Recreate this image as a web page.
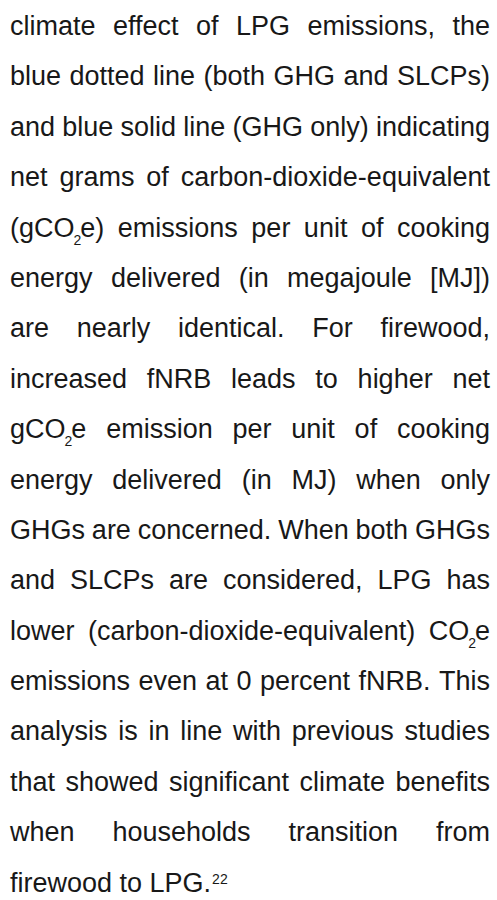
<!DOCTYPE html>
<html>
<head>
<meta charset="utf-8">
<script src="https://cdn.jsdelivr.net/npm/chart.js@4"></script>
<style>
  html, body { margin: 0; padding: 0; background: #fff; }
  #text {
    position: absolute;
    left: 10px;
    top: 1px;
    width: 480px;
    font-family: "Liberation Sans", Arial, Helvetica, sans-serif;
    font-size: 27px;
    line-height: 50.4px;
    color: #181818;
  }
  .ln { display: flex; justify-content: space-between; height: 50.4px; white-space: nowrap; }
  .ln.last { display: block; }
  sub { font-size: 14px; vertical-align: -8px; line-height: 0; margin: 0 -1px; }
  sup { font-size: 14px; vertical-align: 8px; line-height: 0; margin-left: 1px; }
</style>
</head>
<body>
<div id="text"></div>
<script>
  // Paragraph lines as they break in the reference
  const lines = [
    'climate effect of LPG emissions, the',
    'blue dotted line (both GHG and SLCPs)',
    'and blue solid line (GHG only) indicating',
    'net grams of carbon-dioxide-equivalent',
    '(gCO<sub>2</sub>e) emissions per unit of cooking',
    'energy delivered (in megajoule [MJ])',
    'are nearly identical. For firewood,',
    'increased fNRB leads to higher net',
    'gCO<sub>2</sub>e emission per unit of cooking',
    'energy delivered (in MJ) when only',
    'GHGs are concerned. When both GHGs',
    'and SLCPs are considered, LPG has',
    'lower (carbon-dioxide-equivalent) CO<sub>2</sub>e',
    'emissions even at 0 percent fNRB. This',
    'analysis is in line with previous studies',
    'that showed significant climate benefits',
    'when households transition from',
    'firewood to LPG.<sup>22</sup>'
  ];

  const box = document.getElementById('text');
  lines.forEach((l, i) => {
    const row = document.createElement('div');
    if (i === lines.length - 1) {
      row.className = 'ln last';
      row.innerHTML = l;
    } else {
      row.className = 'ln';
      l.split(' ').forEach(w => {
        const s = document.createElement('span');
        s.innerHTML = w;
        row.appendChild(s);
      });
    }
    box.appendChild(row);
  });
</script>
</body>
</html>
